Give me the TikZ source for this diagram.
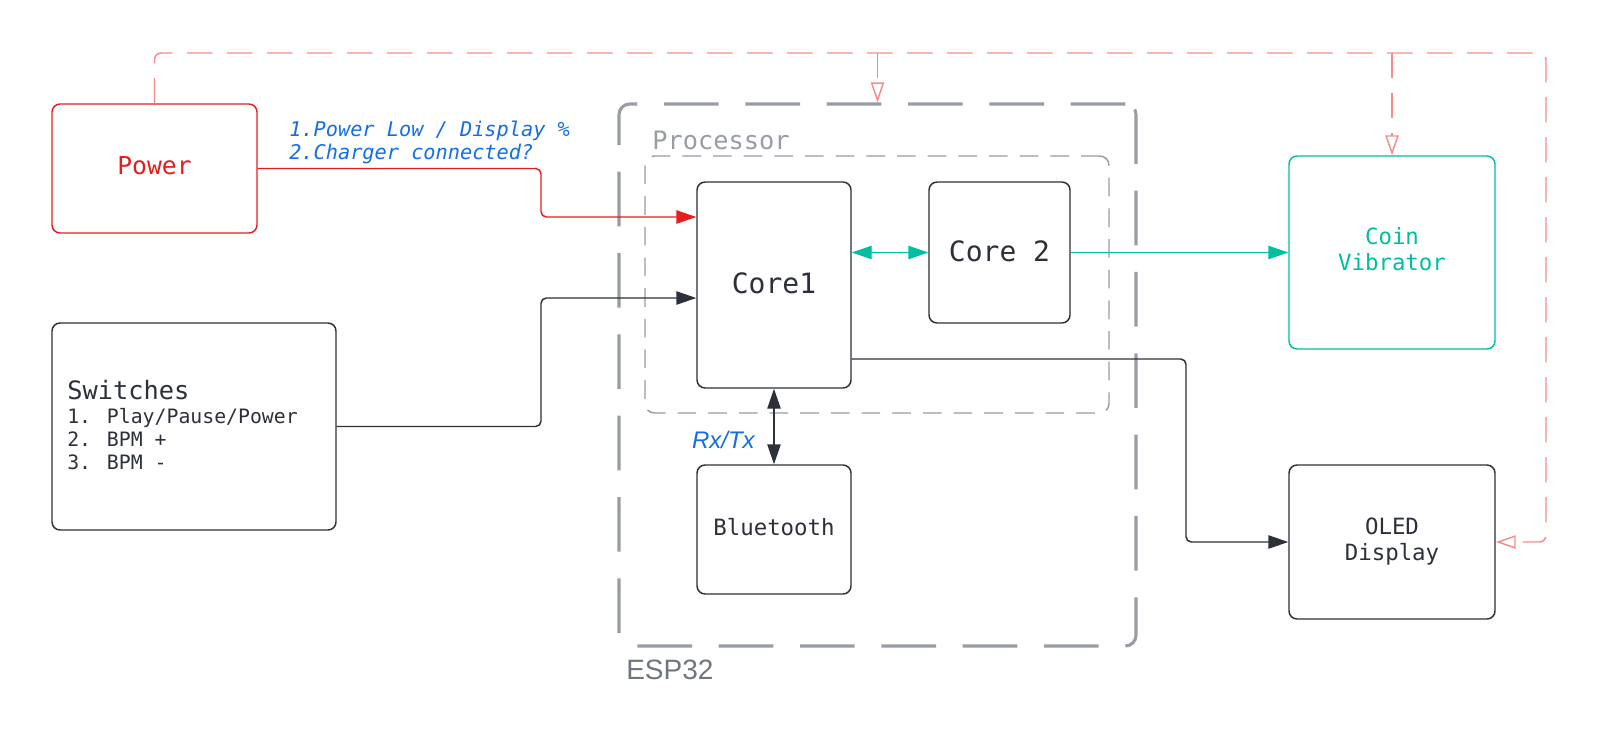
\documentclass[tikz,border=0pt]{standalone}
\usepackage{fontspec}
\setmainfont{DejaVu Sans Mono}
\newfontfamily\sansf{Liberation Sans}
\usetikzlibrary{arrows.meta}
\definecolor{pred}{RGB}{232,28,28}
\definecolor{pblue}{RGB}{20,110,228}
\definecolor{pteal}{RGB}{0,190,160}
\definecolor{ppink}{RGB}{246,140,140}
\definecolor{pdark}{RGB}{44,48,56}
\definecolor{pgray}{RGB}{152,157,165}
\definecolor{plabel}{RGB}{112,118,128}
\tikzset{
  sz/.style 2 args={minimum width={#1*0.75pt},minimum height={#2*0.75pt}},
  blk/.style={draw=pdark,line width=1.1pt,rounded corners=6pt,inner sep=0pt,fill=white},
  conn/.style={line width=1.1pt,rounded corners=4pt},
  tip/.style={-{Triangle[length=15pt,width=10pt]}},
  dtip/.style={{Triangle[length=15pt,width=10pt]}-{Triangle[length=15pt,width=10pt]}},
  otip/.style={-{Triangle[open,length=15pt,width=10pt]}},
  pk/.style={draw=ppink,line width=1.1pt,dash pattern=on 19pt off 11pt,rounded corners=5pt},
  fs/.style={font=\fontsize{#1}{#1*1.2}\selectfont},
}
\begin{document}
\begin{tikzpicture}[x=0.75pt,y=-0.75pt]
\useasboundingbox[fill=white] (0,0) rectangle (1600,749);

% containers
\node[draw=pgray,line width=2.3pt,dash pattern=on 41pt off 20pt,rounded corners=8pt,sz={517}{542}] (esp) at (877.5,375) {};
\node[draw=pgray,line width=1.1pt,dash pattern=on 14pt off 9pt,rounded corners=7pt,sz={464}{257}] (proc) at (877,284.5) {};
\node[anchor=west,text=pgray,inner sep=0pt,font=\fontsize{19}{22}\selectfont] (proclbl) at (652,140) {Processor};
\node[anchor=west,text=plabel,inner sep=0pt,font=\sansf\fontsize{21}{25}\selectfont] (esplbl) at (626,670) {ESP32};

% blocks
\node[blk,draw=pred,sz={205}{129},text=pred,font=\fontsize{18.5}{22}\selectfont] (power) at (154.5,168.5) {};
\node[text=pred,font=\fontsize{18.5}{22}\selectfont] (powert) at (154.5,166) {Power};
\node[blk,sz={284}{207}] (sw) at (194,426.5) {};
\node[blk,sz={154}{206}] (core1) at (774,285) {};
\node[text=pdark,font=\fontsize{21}{25}\selectfont] (core1t) at (774,283) {Core1};
\node[blk,sz={141}{141}] (core2) at (999.5,252.5) {};
\node[text=pdark,font=\fontsize{21}{25}\selectfont] (core2t) at (999.5,251) {Core 2};
\node[blk,draw=pteal,sz={206}{193}] (coin) at (1392,252.5) {};
\node[text=pteal,align=center,font=\fontsize{16.8}{19.5}\selectfont] (coint) at (1392,249) {Coin\\Vibrator};
\node[blk,sz={206}{154}] (oled) at (1392,542) {};
\node[text=pdark,align=center,font=\fontsize{16.8}{19.5}\selectfont] (oledt) at (1392,542) {OLED\\Display};
\node[blk,sz={154}{129}] (bt) at (774,529.5) {};
\node[text=pdark,font=\fontsize{16.8}{19.5}\selectfont] (btt) at (774,527) {Bluetooth};

% switches text
\node[anchor=base west,inner sep=0pt,text=pdark,font=\fontsize{19}{22}\selectfont] (sw0) at (67,399) {Switches};
\node[anchor=base west,inner sep=0pt,text=pdark,font=\fontsize{14.85}{17}\selectfont] (sw1) at (67,423) {1. Play/Pause/Power};
\node[anchor=base west,inner sep=0pt,text=pdark,font=\fontsize{14.85}{17}\selectfont] (sw2) at (67,446) {2. BPM +};
\node[anchor=base west,inner sep=0pt,text=pdark,font=\fontsize{14.85}{17}\selectfont] (sw3) at (67,469) {3. BPM -};

% power labels
\node[anchor=base west,inner sep=0pt,text=pblue,font=\itshape\fontsize{15.2}{18}\selectfont] (pl1) at (289,137) {1.Power Low / Display \%};
\node[anchor=base west,inner sep=0pt,text=pblue,font=\itshape\fontsize{15.2}{18}\selectfont] (pl2) at (289,159) {2.Charger connected?};

% connectors
\draw[conn,draw=pred,tip,color=pred] (power.east) -| (541,217) -- (core1.west |- 0,217);
\draw[conn,draw=pdark,tip,color=pdark] (sw.east) -| (541,298) -- (core1.west |- 0,298);
\draw[conn,color=pteal,dtip] (core1.east |- core2.west) -- (core2.west);
\draw[conn,color=pteal,tip] (core2.east) -- (coin.west);
\draw[conn,color=pdark,tip] (core1.east |- 0,359) -| (1186,542) -- (oled.west);
\draw[conn,color=pdark,dtip] (core1.south) -- (bt.north);
\node[anchor=east,inner sep=0pt,text=pblue,font=\sansf\itshape\fontsize{18}{21}\selectfont] (rxtx) at (755,440) {Rx/Tx};

% power bus (dashed)
\coordinate (busR) at (1546,53);
\draw[pk,otip] (power.north) |- (busR) |- (oled.east);
\draw[pk,otip] (esp.north |- busR) -- (esp.north);
\draw[pk,otip] (coin.north |- busR) -- (coin.north);
\end{tikzpicture}
\end{document}
